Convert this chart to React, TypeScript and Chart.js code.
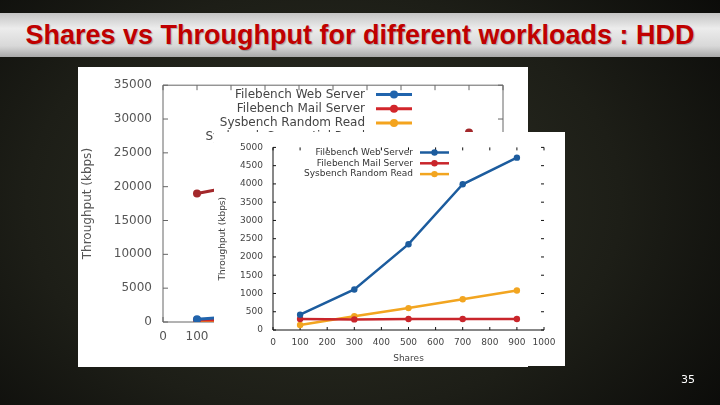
import { useEffect, useRef } from 'react'
import { Chart, registerables } from 'chart.js'

Chart.register(...registerables)

const shares = [100, 300, 500, 700, 900]
const seriesLabels = ['Filebench Web Server', 'Filebench Mail Server', 'Sysbench Random Read', 'Sysbench Sequential Read']

// front figure (HDD, kbps)
const webServer = [420, 1110, 2350, 3990, 4720]
const mailServer = [300, 290, 300, 300, 300]
const randomRead = [135, 375, 600, 840, 1080]

// back figure, mostly covered by the front one
const backWeb = [420, 1110, 2350, 3990, 4720]
const backMail = [300, 290, 300, 300, 300]
const backRandom = [135, 375, 600, 840, 1080]
const backSeq = [19000, 20900, 23200, 25600, 28000]

const xTicks = [0, 100, 200, 300, 400, 500, 600, 700, 800, 900, 1000]
const frontYTicks = [0, 500, 1000, 1500, 2000, 2500, 3000, 3500, 4000, 4500, 5000]
const backYTicks = [0, 5000, 10000, 15000, 20000, 25000, 30000, 35000]

const pts = (vals: number[]) => shares.map((s, i) => ({ x: s, y: vals[i] }))
const plain = (v: any) => String(v)

// gnuplot style frame: axis lines + inward ticks (mirrored)
const frame = {
  id: 'frame',
  beforeDatasetsDraw(chart: any, _a: any, opts: any) {
    const { ctx, chartArea: a, scales: { x, y } } = chart
    ctx.save()
    ctx.strokeStyle = opts.color
    ctx.lineWidth = opts.width
    ctx.beginPath()
    ctx.moveTo(a.left, a.top)
    ctx.lineTo(a.left, a.bottom)
    ctx.lineTo(a.right, a.bottom)
    if (opts.box) { ctx.lineTo(a.right, a.top); ctx.closePath() }
    const t = opts.tick
    x.ticks.forEach((tk: any) => {
      const px = x.getPixelForValue(tk.value)
      ctx.moveTo(px, a.bottom); ctx.lineTo(px, a.bottom - t)
      ctx.moveTo(px, a.top); ctx.lineTo(px, a.top + t)
    })
    y.ticks.forEach((tk: any) => {
      const py = y.getPixelForValue(tk.value)
      ctx.moveTo(a.left, py); ctx.lineTo(a.left + t, py)
      ctx.moveTo(a.right, py); ctx.lineTo(a.right - t, py)
    })
    ctx.stroke()
    ctx.restore()
  },
}

// legend with text to the left of the line sample
const gnuLegend = {
  id: 'gnuLegend',
  afterDatasetsDraw(chart: any, _a: any, opts: any) {
    const { ctx } = chart
    ctx.save()
    ctx.font = opts.font
    ctx.textAlign = 'right'
    ctx.textBaseline = 'middle'
    chart.data.datasets.forEach((ds: any, i: number) => {
      const yy = opts.y + i * opts.gap
      ctx.fillStyle = opts.color
      ctx.fillText(ds.label, opts.x, yy)
      ctx.strokeStyle = ds.borderColor
      ctx.lineWidth = ds.borderWidth
      ctx.beginPath()
      ctx.moveTo(opts.x + opts.l0, yy)
      ctx.lineTo(opts.x + opts.l1, yy)
      ctx.stroke()
      ctx.fillStyle = ds.pointBackgroundColor
      ctx.beginPath()
      ctx.arc(opts.x + (opts.l0 + opts.l1) / 2, yy, ds.pointRadius, 0, Math.PI * 2)
      ctx.fill()
    })
    ctx.restore()
  },
}

const line = (label: string, vals: number[], color: string, w: number, r: number) => ({
  label,
  data: pts(vals),
  borderColor: color,
  backgroundColor: color,
  pointBackgroundColor: color,
  pointBorderWidth: 0,
  borderWidth: w,
  pointRadius: r,
  tension: 0,
})

function BackChart() {
  const ref = useRef<HTMLCanvasElement>(null)
  useEffect(() => {
    if (!ref.current) return
    const font = { family: 'DejaVu Sans', size: 12 }
    const chart = new Chart(ref.current, {
      type: 'line',
      data: {
        datasets: [
          line(seriesLabels[0], backWeb, '#2064ad', 3, 4),
          line(seriesLabels[1], backMail, '#d2262b', 3, 4),
          line(seriesLabels[2], backRandom, '#f4a41e', 3, 4),
          line(seriesLabels[3], backSeq, '#a3282b', 3, 4),
        ],
      },
      options: {
        animation: false, responsive: true, maintainAspectRatio: false,
        layout: { padding: { top: 17, right: 25, left: 0, bottom: 0 } },
        plugins: {
          legend: { display: false }, tooltip: { enabled: false },
          frame: { color: '#666', width: 1, tick: 5, box: true },
          gnuLegend: { font: '12px "DejaVu Sans"', color: '#444', x: 287, y: 27.5, gap: 14.2, l0: 11, l1: 47 },
        } as any,
        scales: {
          x: {
            type: 'linear', min: 0, max: 1000,
            afterBuildTicks: (s: any) => { s.ticks = xTicks.map(v => ({ value: v })) },
            afterFit: (s: any) => { s.height = 45 },
            grid: { display: false, drawTicks: false }, border: { display: false },
            ticks: { color: '#555', font, padding: 8, autoSkip: false, maxRotation: 0, callback: plain },
            title: { display: true, text: 'Shares', color: '#555', font },
          },
          y: {
            min: 0, max: 35000,
            afterBuildTicks: (s: any) => { s.ticks = backYTicks.map(v => ({ value: v })) },
            afterFit: (s: any) => { s.width = 85 },
            grid: { display: false, drawTicks: false }, border: { display: false },
            ticks: { color: '#555', font, padding: 11, callback: plain },
            title: { display: true, text: 'Throughput (kbps)', color: '#555', font, padding: { top: 3, bottom: 0 } },
          },
        },
      },
      plugins: [frame, gnuLegend],
    })
    return () => chart.destroy()
  }, [])
  return <canvas ref={ref} />
}

function FrontChart() {
  const ref = useRef<HTMLCanvasElement>(null)
  useEffect(() => {
    if (!ref.current) return
    const font = { family: 'DejaVu Sans', size: 9 }
    const chart = new Chart(ref.current, {
      type: 'line',
      data: {
        datasets: [
          line(seriesLabels[0], webServer, '#1c5c9e', 2.5, 3.2),
          line(seriesLabels[1], mailServer, '#c9252b', 2.5, 3.2),
          line(seriesLabels[2], randomRead, '#f2a520', 2.5, 3.2),
        ],
      },
      options: {
        animation: false, responsive: true, maintainAspectRatio: false,
        layout: { padding: { top: 13, right: 21, left: 0, bottom: 0 } },
        plugins: {
          legend: { display: false }, tooltip: { enabled: false },
          frame: { color: '#111', width: 1, tick: 3, box: false },
          gnuLegend: { font: '9px "DejaVu Sans"', color: '#333', x: 199, y: 20.5, gap: 10.8, l0: 7, l1: 36 },
        } as any,
        scales: {
          x: {
            type: 'linear', min: 0, max: 1000,
            afterBuildTicks: (s: any) => { s.ticks = xTicks.map(v => ({ value: v })) },
            afterFit: (s: any) => { s.height = 36 },
            grid: { display: false, drawTicks: false }, border: { display: false },
            ticks: { color: '#444', font, padding: 7, autoSkip: false, maxRotation: 0, callback: plain },
            title: { display: true, text: 'Shares', color: '#444', font, padding: { top: 0, bottom: 2 } },
          },
          y: {
            min: 0, max: 5000,
            afterBuildTicks: (s: any) => { s.ticks = frontYTicks.map(v => ({ value: v })) },
            afterFit: (s: any) => { s.width = 59 },
            grid: { display: false, drawTicks: false }, border: { display: false },
            ticks: { color: '#444', font, padding: 10, callback: plain },
            title: { display: true, text: 'Throughput (kbps)', color: '#444', font, padding: { top: 3, bottom: 0 } },
          },
        },
      },
      plugins: [frame, gnuLegend],
    })
    return () => chart.destroy()
  }, [])
  return <canvas ref={ref} />
}

export default function App() {
  return (
    <div style={{
      position: 'fixed', left: 0, top: 0, width: 720, height: 405, overflow: 'hidden',
      background: 'radial-gradient(ellipse 75% 95% at 45% 50%, #303226 0%, #1d1e17 55%, #070706 100%)',
    }}>
      <div style={{
        position: 'absolute', left: 0, top: 13, width: 720, height: 44,
        background: 'linear-gradient(to bottom, #c4c4c4, #ececec 35%, #d8d8d8 75%, #a8a8a8)',
        display: 'flex', alignItems: 'center', justifyContent: 'center',
      }}>
        <span style={{
          fontFamily: '"Liberation Sans", Arial, sans-serif', fontWeight: 'bold', fontSize: 27,
          color: '#c00000', textShadow: '1px 1px 1px rgba(0,0,0,0.25)', whiteSpace: 'nowrap',
        }}>
          Shares vs Throughput for different workloads : HDD
        </span>
      </div>

      <div style={{ position: 'absolute', left: 78, top: 67, width: 450, height: 300, background: '#fff' }}>
        <BackChart />
      </div>
      <div style={{ position: 'absolute', left: 214, top: 132, width: 351, height: 234, background: '#fff' }}>
        <FrontChart />
      </div>

      <div style={{
        position: 'absolute', left: 681, top: 373, fontFamily: '"DejaVu Sans", sans-serif',
        fontSize: 11, color: '#fff',
      }}>35</div>
    </div>
  )
}
